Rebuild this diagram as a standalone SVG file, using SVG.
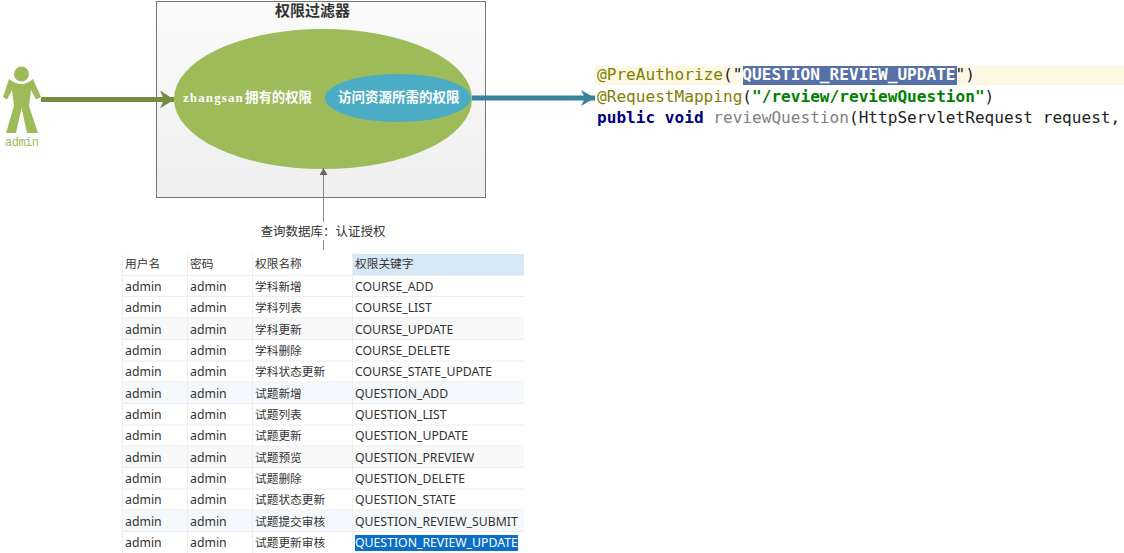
<svg xmlns="http://www.w3.org/2000/svg" width="1124" height="553" viewBox="0 0 1124 553">
<style>
text{font-family:"Noto Sans","Noto Sans CJK SC",sans-serif}
.t{font-size:12.27px;fill:#333}
.z{font-size:11.7px;fill:#333;font-family:"Noto Sans CJK SC",sans-serif}
.c{font-family:"DejaVu Sans Mono","Noto Sans CJK SC",monospace;font-size:16.1px}
.s{font-family:"Liberation Serif","Noto Sans CJK SC",serif;font-weight:700;fill:#fff;font-size:13px}
.sep{stroke:#eee;stroke-width:1}
</style>
<defs>
<linearGradient id="g" x1="0" y1="0" x2="0" y2="1"><stop offset="0" stop-color="#fbfbfb"/><stop offset="1" stop-color="#efefef"/></linearGradient>
<marker id="a1" markerUnits="userSpaceOnUse" markerWidth="14" markerHeight="18" refX="14" refY="9" orient="auto"><path d="M0 0L14 9L0 18L4 9Z" fill="#738e3c"/></marker>
<marker id="a2" markerUnits="userSpaceOnUse" markerWidth="14" markerHeight="18" refX="14" refY="9" orient="auto"><path d="M0 1L14 9L0 17L4 9Z" fill="#38829b"/></marker>
<marker id="a3" markerUnits="userSpaceOnUse" markerWidth="7" markerHeight="8" refX="7" refY="4" orient="auto"><path d="M0 0L7 4L0 8Z" fill="#666"/></marker>
</defs>

<g id="filter-box">
<rect x="156.500" y="1.500" width="329" height="196" fill="url(#g)" stroke="#777" stroke-width="1"/>
<text x="312.500" y="16" text-anchor="middle" font-size="15" font-weight="700" fill="#333" style="font-family:'Noto Sans CJK SC',sans-serif">权限过滤器</text>
</g>

<g id="owned-permissions">
<ellipse cx="323" cy="99" rx="149" ry="70" fill="#9dbb59"/>
<text class="s" y="102"><tspan x="183" letter-spacing="1.1">zhangsan</tspan><tspan x="245" font-size="13.4">拥有的权限</tspan></text>
</g>

<g id="required-permissions">
<ellipse cx="398" cy="98" rx="73" ry="24" fill="#4bacc6"/>
<text class="s" x="338" y="102" style="font-size:13.5px">访问资源所需的权限</text>
</g>

<g id="admin-actor" fill="#9dbb59">
<circle cx="21.500" cy="74" r="7.500"/>
<path d="M9 79Q21.500 89 33 79L41 97L36 99.500L31 90L29 106L38 133L27 133L21.500 108L16 133L6 133L14 106L12 90L7 99.500L3 97Z"/>
<text x="5" y="146" font-size="12" style="font-family:'Liberation Mono',monospace" textLength="34">admin</text>
</g>

<g id="connectors" fill="none">
<path d="M41 99.500H174" stroke="#738e3c" stroke-width="5" marker-end="url(#a1)"/>
<path d="M472 98H595" stroke="#38829b" stroke-width="5" marker-end="url(#a2)"/>
<path d="M323.500 250V168" stroke="#888" stroke-width="1" marker-end="url(#a3)"/>
</g>

<g id="connector-label">
<rect x="258" y="222" width="130" height="18" fill="#fff"/>
<text x="323" y="236" text-anchor="middle" font-size="12.500" fill="#333" style="font-family:'Noto Sans CJK SC',sans-serif">查询数据库：认证授权</text>
</g>

<g id="code">
<rect x="594" y="66" width="530" height="19" fill="#fdf8e4"/>
<rect x="743" y="66" width="214" height="19" fill="#5670a8"/>
<text class="c" x="597" y="80"><tspan fill="#808000">@PreAuthorize</tspan><tspan fill="#222">("</tspan><tspan fill="#fff" font-weight="700">QUESTION_REVIEW_UPDATE</tspan><tspan fill="#222">")</tspan></text>
<text class="c" x="597" y="102"><tspan fill="#808000">@RequestMapping</tspan><tspan fill="#222">(</tspan><tspan fill="#008000" font-weight="700">"/review/reviewQuestion"</tspan><tspan fill="#222">)</tspan></text>
<text class="c" x="597" y="123"><tspan fill="#000080" font-weight="700">public void</tspan><tspan fill="#808080"> reviewQuestion</tspan><tspan fill="#222">(HttpServletRequest request,</tspan></text>
</g>

<g id="table">
<rect x="122" y="254" width="402" height="22" fill="#fff"/>
<rect x="353" y="254" width="171" height="21" fill="#d6e7f6"/>
<rect x="122" y="318" width="402" height="21" fill="#f9f9f9"/>
<rect x="122" y="382" width="402" height="21" fill="#f5f9fd"/>
<rect x="122" y="446" width="402" height="21" fill="#f9f9f9"/>
<rect x="122" y="510" width="402" height="21" fill="#f5f9fd"/>
<path class="sep" d="M122 275.500H524M122 296.500H524M122 318H524M122 339.500H524M122 361H524M122 382H524M122 403.500H524M122 425H524M122 446H524M122 467.500H524M122 489H524M122 510H524M122 531.500H524M122.500 254V553M187.500 254V553M252.500 254V553M352.500 254V553"/>
<rect x="355" y="535" width="163" height="16" fill="#0a6fc9"/>
<text class="z" x="125" y="268">用户名</text><text class="z" x="190" y="268">密码</text><text class="z" x="255" y="268">权限名称</text><text class="z" x="355" y="268">权限关键字</text>
<text class="t" x="125" y="291">admin</text><text class="t" x="190" y="291">admin</text><text class="z" x="255" y="291">学科新增</text><text class="t" x="355" y="291">COURSE_ADD</text>
<text class="t" x="125" y="312">admin</text><text class="t" x="190" y="312">admin</text><text class="z" x="255" y="312">学科列表</text><text class="t" x="355" y="312">COURSE_LIST</text>
<text class="t" x="125" y="334">admin</text><text class="t" x="190" y="334">admin</text><text class="z" x="255" y="334">学科更新</text><text class="t" x="355" y="334">COURSE_UPDATE</text>
<text class="t" x="125" y="355">admin</text><text class="t" x="190" y="355">admin</text><text class="z" x="255" y="355">学科删除</text><text class="t" x="355" y="355">COURSE_DELETE</text>
<text class="t" x="125" y="376">admin</text><text class="t" x="190" y="376">admin</text><text class="z" x="255" y="376">学科状态更新</text><text class="t" x="355" y="376">COURSE_STATE_UPDATE</text>
<text class="t" x="125" y="398">admin</text><text class="t" x="190" y="398">admin</text><text class="z" x="255" y="398">试题新增</text><text class="t" x="355" y="398">QUESTION_ADD</text>
<text class="t" x="125" y="419">admin</text><text class="t" x="190" y="419">admin</text><text class="z" x="255" y="419">试题列表</text><text class="t" x="355" y="419">QUESTION_LIST</text>
<text class="t" x="125" y="440">admin</text><text class="t" x="190" y="440">admin</text><text class="z" x="255" y="440">试题更新</text><text class="t" x="355" y="440">QUESTION_UPDATE</text>
<text class="t" x="125" y="462">admin</text><text class="t" x="190" y="462">admin</text><text class="z" x="255" y="462">试题预览</text><text class="t" x="355" y="462">QUESTION_PREVIEW</text>
<text class="t" x="125" y="483">admin</text><text class="t" x="190" y="483">admin</text><text class="z" x="255" y="483">试题删除</text><text class="t" x="355" y="483">QUESTION_DELETE</text>
<text class="t" x="125" y="504">admin</text><text class="t" x="190" y="504">admin</text><text class="z" x="255" y="504">试题状态更新</text><text class="t" x="355" y="504">QUESTION_STATE</text>
<text class="t" x="125" y="526">admin</text><text class="t" x="190" y="526">admin</text><text class="z" x="255" y="526">试题提交审核</text><text class="t" x="355" y="526">QUESTION_REVIEW_SUBMIT</text>
<text class="t" x="125" y="547">admin</text><text class="t" x="190" y="547">admin</text><text class="z" x="255" y="547">试题更新审核</text><text class="t" x="355" y="547" style="fill:#fff">QUESTION_REVIEW_UPDATE</text>
</g>
</svg>
